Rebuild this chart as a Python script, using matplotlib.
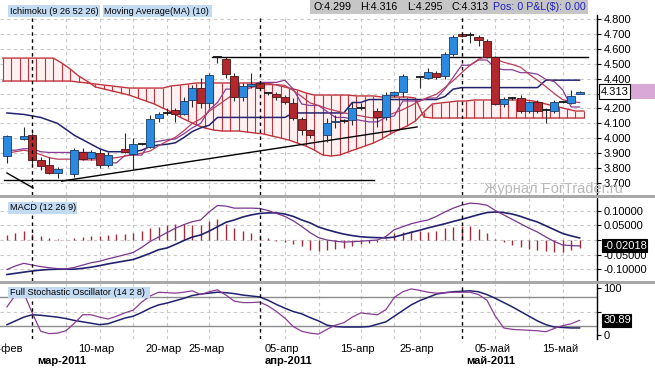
import matplotlib
matplotlib.use("Agg")
import matplotlib.pyplot as plt
from matplotlib.patches import Rectangle
import matplotlib.transforms as mtransforms
import numpy as np
import pandas as pd

plt.rcParams['font.family'] = ['Liberation Sans', 'DejaVu Sans']

W, H = 655, 368

# ---------------- x axis calendar (Sun-Fri bars, no bar on 22 Apr) ----------------
axis_dates = [d for d in pd.date_range('2011-02-25', '2011-05-17')
              if d.weekday() != 5 and d != pd.Timestamp('2011-04-22')]
slot = {d.strftime('%Y-%m-%d'): i for i, d in enumerate(axis_dates)}
xs = np.arange(len(axis_dates))

# ---------------- candles ----------------
candle_dates = ['2011-02-25', '2011-02-28', '2011-03-01', '2011-03-02', '2011-03-03', '2011-03-04',
                '2011-03-07', '2011-03-08', '2011-03-09', '2011-03-10', '2011-03-11', '2011-03-14',
                '2011-03-15', '2011-03-16', '2011-03-17', '2011-03-18', '2011-03-20', '2011-03-21',
                '2011-03-22', '2011-03-23', '2011-03-24', '2011-03-25', '2011-03-27', '2011-03-28',
                '2011-03-29', '2011-03-30', '2011-03-31', '2011-04-01', '2011-04-03', '2011-04-04',
                '2011-04-05', '2011-04-06', '2011-04-07', '2011-04-08', '2011-04-11', '2011-04-12',
                '2011-04-13', '2011-04-14', '2011-04-15', '2011-04-18', '2011-04-19', '2011-04-20',
                '2011-04-21', '2011-04-25', '2011-04-26', '2011-04-27', '2011-04-28', '2011-04-29',
                '2011-05-01', '2011-05-02', '2011-05-03', '2011-05-04', '2011-05-05', '2011-05-06',
                '2011-05-08', '2011-05-09', '2011-05-10', '2011-05-11', '2011-05-12', '2011-05-13',
                '2011-05-15', '2011-05-16', '2011-05-17']
opens = [3.881, 3.995, 4.022, 3.854, 3.821, 3.767, 3.760, 3.908, 3.868, 3.901, 3.821, 3.925,
         3.894, 3.962, 3.942, 4.136, 4.170, 4.190, 4.163, 4.257, 4.337, 4.237, 4.545, 4.532,
         4.418, 4.277, 4.351, 4.371, 4.305, 4.297, 4.277, 4.237, 4.129, 4.056, 4.022, 4.110,
         4.115, 4.123, 4.200, 4.183, 4.143, 4.290, 4.310, 4.410, 4.404, 4.438, 4.418, 4.565,
         4.700, 4.690, 4.679, 4.652, 4.545, 4.230, 4.270, 4.270, 4.183, 4.243, 4.190, 4.183,
         4.243, 4.237, 4.299]
highs = [4.020, 4.076, 4.035, 3.874, 3.874, 3.807, 3.935, 3.935, 3.921, 3.928, 3.908, 4.035,
         4.002, 3.970, 4.156, 4.176, 4.200, 4.203, 4.277, 4.357, 4.404, 4.440, 4.550, 4.545,
         4.438, 4.371, 4.438, 4.380, 4.310, 4.310, 4.290, 4.270, 4.140, 4.065, 4.136, 4.156,
         4.130, 4.243, 4.237, 4.200, 4.310, 4.320, 4.430, 4.420, 4.471, 4.450, 4.580, 4.690,
         4.710, 4.710, 4.690, 4.666, 4.550, 4.280, 4.280, 4.290, 4.250, 4.260, 4.200, 4.260,
         4.250, 4.324, 4.316]
lows = [3.834, 3.988, 3.821, 3.787, 3.760, 3.734, 3.740, 3.854, 3.854, 3.800, 3.807, 3.901,
        3.790, 3.955, 3.935, 4.109, 4.156, 4.109, 4.156, 4.210, 4.203, 4.203, 4.505, 4.404,
        4.250, 4.250, 4.337, 4.330, 4.290, 4.260, 4.230, 4.123, 4.022, 4.002, 3.975, 4.069,
        4.100, 4.089, 4.190, 4.076, 4.123, 4.280, 4.277, 4.340, 4.400, 4.400, 4.400, 4.550,
        4.680, 4.640, 4.620, 4.540, 4.223, 4.210, 4.260, 4.170, 4.170, 4.170, 4.100, 4.170,
        4.240, 4.230, 4.295]
closes = [4.015, 4.015, 3.854, 3.814, 3.767, 3.794, 3.921, 3.861, 3.908, 3.821, 3.888, 3.908,
          3.962, 3.962, 4.129, 4.163, 4.170, 4.163, 4.250, 4.337, 4.237, 4.424, 4.545, 4.431,
          4.277, 4.351, 4.364, 4.337, 4.305, 4.277, 4.243, 4.136, 4.056, 4.022, 4.102, 4.115,
          4.115, 4.203, 4.200, 4.143, 4.290, 4.310, 4.418, 4.410, 4.445, 4.411, 4.565, 4.679,
          4.686, 4.690, 4.659, 4.545, 4.230, 4.263, 4.270, 4.183, 4.243, 4.183, 4.190, 4.243,
          4.243, 4.284, 4.313]

# ---------------- Ichimoku cloud (values at bar boundaries, 70 points) ----------------
cloud_a = [4.384, 4.384, 4.384, 4.384, 4.384, 4.384, 4.384, 4.384, 4.384, 4.377, 4.371, 4.364,
           4.357, 4.351, 4.344, 4.337, 4.337, 4.337, 4.337, 4.337, 4.351, 4.357, 4.364, 4.371,
           4.371, 4.371, 4.371, 4.371, 4.371, 4.371, 4.371, 4.371, 4.364, 4.351, 4.337, 4.324,
           4.304, 4.290, 4.290, 4.290, 4.290, 4.290, 4.284, 4.284, 4.284, 4.277, 4.277, 4.277,
           4.277, 4.270, 4.143, 4.136, 4.136, 4.136, 4.136, 4.136, 4.136, 4.136, 4.136, 4.136,
           4.136, 4.136, 4.136, 4.136, 4.136, 4.136, 4.136, 4.136, 4.136, 4.136]
cloud_b = [4.538, 4.538, 4.538, 4.538, 4.538, 4.538, 4.538, 4.505, 4.465, 4.418, 4.384, 4.344,
           4.331, 4.317, 4.304, 4.290, 4.270, 4.250, 4.230, 4.203, 4.176, 4.143, 4.116, 4.089,
           4.069, 4.056, 4.049, 4.049, 4.049, 4.042, 4.035, 4.029, 4.015, 4.002, 3.988, 3.968,
           3.948, 3.921, 3.888, 3.881, 3.888, 3.908, 3.928, 3.948, 3.968, 3.995, 4.029, 4.056,
           4.082, 4.116, 4.176, 4.230, 4.237, 4.243, 4.250, 4.250, 4.257, 4.257, 4.257, 4.257,
           4.257, 4.257, 4.257, 4.250, 4.237, 4.223, 4.210, 4.196, 4.183, 4.183]

# ---------------- lines on price panel (one value per axis date) ----------------
tenkan = [3.92, 3.92, 3.93, 3.93, 3.91, 3.905, 3.905, 3.905, 3.905, 3.905, 3.905, 3.885, 3.835,
          3.835, 3.885, 3.887, 3.887, 3.97, 3.98, 3.99, 3.995, 4.03, 4.07, 4.10, 4.19, 4.24,
          4.33, 4.33, 4.33, 4.35, 4.375, 4.375, 4.375, 4.39, 4.33, 4.23, 4.22, 4.22, 4.18, 4.14,
          4.14, 4.13, 4.12, 4.11, 4.11, 4.14, 4.15, 4.25, 4.25, 4.25, 4.27, 4.27, 4.33, 4.41,
          4.49, 4.49, 4.525, 4.525, 4.47, 4.46, 4.46, 4.44, 4.44, 4.43, 4.395, 4.38, 4.325,
          4.21, 4.21]
kijun = [4.17, 4.165, 4.16, 4.15, 4.14, 4.12, 4.10, 4.06, 4.02, 3.99, 3.96, 3.93, 3.91, 3.91,
         3.91, 3.91, 3.92, 3.945, 3.955, 3.96, 3.97, 4.005, 4.045, 4.07, 4.087, 4.14, 4.14,
         4.14, 4.14, 4.14, 4.14, 4.14, 4.14, 4.14, 4.17, 4.17, 4.17, 4.17, 4.17, 4.17, 4.17,
         4.24, 4.24, 4.26, 4.26, 4.26, 4.26, 4.26, 4.26, 4.26, 4.26, 4.26, 4.28, 4.33, 4.34,
         4.34, 4.34, 4.34, 4.34, 4.34, 4.34, 4.34, 4.34, 4.34, 4.39, 4.39, 4.39, 4.39, 4.39]
ma10 = [3.90, 3.91, 3.92, 3.91, 3.89, 3.87, 3.86, 3.86, 3.86, 3.855, 3.855, 3.855, 3.864, 3.87,
        3.88, 3.89, 3.90, 3.915, 3.95, 3.98, 4.007, 4.05, 4.10, 4.13, 4.18, 4.22, 4.26, 4.30,
        4.32, 4.34, 4.355, 4.36, 4.36, 4.355, 4.32, 4.28, 4.237, 4.22, 4.20, 4.185, 4.171, 4.16,
        4.15, 4.14, 4.134, 4.15, 4.17, 4.192, 4.22, 4.25, 4.275, 4.295, 4.34, 4.387, 4.44,
        4.49, 4.53, 4.551, 4.532, 4.51, 4.495, 4.477, 4.43, 4.39, 4.346, 4.30, 4.259, 4.245,
        4.24]

# user-drawn trend lines: (bar position start, price start, bar position end, price end)
trend_lines = [(24.4, 4.545, 69.0, 4.545),
               (-0.3, 3.720, 43.6, 3.720),
               (6.5, 3.713, 48.7, 4.076),
               (0.0, 3.767, 3.1, 3.667)]

# ---------------- MACD (12 26 9) ----------------
macd = [-0.100, -0.088, -0.079, -0.085, -0.090, -0.094, -0.097, -0.098, -0.093, -0.085, -0.077,
        -0.072, -0.064, -0.057, -0.050, -0.042, -0.025, -0.005, 0.010, 0.025, 0.040, 0.052,
        0.062, 0.068, 0.095, 0.117, 0.115, 0.108, 0.108, 0.108, 0.107, 0.100, 0.090, 0.080,
        0.065, 0.046, 0.025, 0.008, 0.000, -0.004, -0.007, -0.006, -0.004, -0.002, 0.000,
        0.012, 0.035, 0.045, 0.055, 0.062, 0.068, 0.080, 0.095, 0.108, 0.118, 0.125, 0.123,
        0.118, 0.100, 0.085, 0.070, 0.055, 0.040, 0.027, 0.010, -0.005, -0.017, -0.019, -0.020]
signal = [-0.117, -0.113, -0.109, -0.105, -0.102, -0.100, -0.099, -0.099, -0.099, -0.096, -0.092,
          -0.087, -0.081, -0.076, -0.071, -0.066, -0.056, -0.045, -0.033, -0.027, -0.015, -0.002,
          0.010, 0.017, 0.030, 0.045, 0.060, 0.068, 0.078, 0.085, 0.090, 0.092, 0.092, 0.088,
          0.080, 0.068, 0.058, 0.044, 0.035, 0.027, 0.020, 0.015, 0.011, 0.009, 0.008, 0.007,
          0.010, 0.018, 0.026, 0.033, 0.041, 0.048, 0.055, 0.063, 0.070, 0.078, 0.086, 0.093,
          0.095, 0.093, 0.088, 0.080, 0.070, 0.061, 0.048, 0.035, 0.022, 0.014, 0.007]
macd_last = -0.02018

# ---------------- Full Stochastic (14 2 8) ----------------
stoch_k = [60, 85, 89, 47, 8, 3, 4, 9, 25, 43, 43, 38, 34, 40, 47, 53, 70, 83, 91, 90, 89, 91,
           94, 86, 92, 96, 85, 72, 69, 69, 70, 62, 50, 36, 18, 8, 4, 2, 12, 21, 26, 38, 47, 45,
           43, 54, 80, 92, 98, 95, 91, 89, 90, 91, 91, 91, 86, 74, 40, 15, 12, 11, 10, 9, 7, 14,
           20, 24, 31]
stoch_d = [22, 30, 38, 43, 42, 40, 38, 35, 31, 28, 25, 22, 24, 30, 36, 40, 48, 57, 64, 68, 73,
           78, 84, 87, 89, 91, 90, 88, 85, 83, 81, 74, 65, 57, 50, 45, 37, 30, 21, 18, 17, 17,
           17, 18, 23, 28, 40, 52, 64, 73, 80, 87, 90, 92, 93, 94, 92, 86, 78, 69, 60, 50, 40,
           30, 22, 17, 16, 15, 15]
stoch_last = 30.89

# ---------------- labels ----------------
tick_dates = ['2011-02-25', '2011-03-10', '2011-03-20', '2011-03-25', '2011-04-05',
              '2011-04-15', '2011-04-25', '2011-05-05', '2011-05-15']
tick_texts = ['25-фев', '10-мар', '20-мар', '25-мар', '05-апр', '15-апр', '25-апр',
              '05-май', '15-май']
month_dates = ['2011-03-01', '2011-04-01', '2011-05-01']
month_texts = ['мар-2011', 'апр-2011', 'май-2011']
grid_dates = ['2011-03-06', '2011-03-10', '2011-03-15', '2011-03-20', '2011-03-25',
              '2011-04-05', '2011-04-10', '2011-04-15', '2011-04-20', '2011-04-25',
              '2011-05-05', '2011-05-10', '2011-05-15']
ohlc_text = ['O:4.299', 'H:4.316', 'L:4.295', 'C:4.313']
last_price = 4.313

# =====================================================================
fig = plt.figure(figsize=(W / 100, H / 100), dpi=100)
fig.patch.set_facecolor('white')

XL = (-0.83, 70.07)
GRID = '#c8c8c8'


def fx(px):
    return px / W


def fy(py):
    return 1 - py / H


def add_ax(y0, y1, ylim):
    ax = fig.add_axes([0, fy(y1), fx(597), (y1 - y0) / H])
    ax.set_facecolor('white')
    for s in ['top', 'left', 'bottom']:
        ax.spines[s].set_visible(False)
    ax.spines['right'].set_color('black')
    ax.spines['right'].set_linewidth(1.0)
    ax.yaxis.tick_right()
    ax.tick_params(axis='y', length=3, width=0.8, pad=1.5, labelsize=8, colors='black')
    ax.set_xticks([])
    ax.set_xlim(*XL)
    ax.set_ylim(*ylim)
    return ax


ax_p = add_ax(15, 195, (3.6196, 4.827))
ax_m = add_ax(198, 281, (-0.139, 0.1424))
ax_s = add_ax(284, 339, (-8.5, 108.5))

# vertical grid + month separators on every panel
for ax in (ax_p, ax_m, ax_s):
    for d in grid_dates:
        ax.axvline(slot[d], color=GRID, lw=0.8, ls=(0, (3, 3)), zorder=0)
    for d in month_dates:
        ax.axvline(slot[d], color='black', lw=1.0, ls=(0, (2.5, 2.5)), zorder=6)

# ---------------- price panel ----------------
pticks = np.round(np.arange(3.7, 4.801, 0.1), 3)
ax_p.set_yticks(pticks)
# the 4.300 label sits under the last-price box, as in the source chart
ax_p.set_yticklabels(['' if abs(v - 4.3) < 1e-6 else '%.3f' % v for v in pticks])
for v in pticks:
    ax_p.axhline(v, color=GRID, lw=0.8, ls=(0, (3, 3)), zorder=0)

cx = np.arange(len(cloud_a)) - 0.5
ax_p.fill_between(cx, cloud_a, cloud_b, color='#fff1f1', zorder=1, lw=0)
ax_p.vlines(cx, cloud_a, cloud_b, color='#c0343c', lw=0.8, zorder=2)
ax_p.plot(cx, cloud_a, color='#c0343c', lw=1.0, zorder=2)
ax_p.plot(cx, cloud_b, color='#c0343c', lw=1.0, zorder=2)

for x0, y0, x1, y1 in trend_lines:
    ax_p.plot([x0, x1], [y0, y1], color='black', lw=1.0, zorder=3)

ax_p.plot(xs, kijun, color='#22226e', lw=1.1, zorder=3)
ax_p.plot(xs, tenkan, color='#8a3c96', lw=0.9, zorder=3)
ax_p.plot(xs, ma10, color='#b8405c', lw=0.9, zorder=3)

BW = 0.96
for d, o, h, l, c in zip(candle_dates, opens, highs, lows, closes):
    x = slot[d]
    ax_p.vlines(x, l, h, color='#2a2a2a', lw=0.8, zorder=4)
    if abs(c - o) < 0.004:
        ax_p.hlines(o, x - BW / 2, x + BW / 2, color='#151515', lw=1.3, zorder=5)
    else:
        up = c > o
        ax_p.add_patch(Rectangle((x - BW / 2, min(o, c)), BW, abs(c - o),
                                 facecolor='#2a8ae0' if up else '#b3282c',
                                 edgecolor='#1c3c66' if up else '#4a1414',
                                 lw=0.6, zorder=5))

# ---------------- MACD panel ----------------
mticks = [-0.1, -0.05, 0.0, 0.05, 0.1]
ax_m.set_yticks(mticks)
ax_m.set_yticklabels(['-0.10000', '-0.05000', '', '0.05000', '0.10000'])
for v in mticks:
    ax_m.axhline(v, color=GRID, lw=0.8, ls=(0, (3, 3)), zorder=0)
hist = np.array(macd) - np.array(signal)
ax_m.vlines(xs, 0, hist, color='#a42a3a', lw=1.0, zorder=2)
ax_m.plot(xs, signal, color='#22226e', lw=1.2, zorder=3)
ax_m.plot(xs, macd, color='#7a3590', lw=0.9, zorder=3)

# ---------------- Stochastic panel ----------------
ax_s.set_yticks([0, 50, 100])
ax_s.set_yticklabels(['0', '', '100'])
ax_s.axhline(50, color=GRID, lw=0.8, ls=(0, (3, 3)), zorder=0)
ax_s.axhline(80, color='#8c8c8c', lw=1.0, zorder=1)
ax_s.axhline(20, color='#8c8c8c', lw=1.0, zorder=1)
ax_s.plot(xs, stoch_d, color='#22226e', lw=1.1, zorder=3)
ax_s.plot(xs, stoch_k, color='#8a3c96', lw=0.9, zorder=3)

# ---------------- x labels ----------------
tr = mtransforms.blended_transform_factory(ax_s.transData, fig.transFigure)
for d, t in zip(tick_dates, tick_texts):
    ax_s.text(slot[d] - 0.35, fy(349), t, transform=tr, ha='center', va='center',
              fontsize=8, clip_on=False)
for d, t in zip(month_dates, month_texts):
    ax_s.text(slot[d] + 0.6, fy(361), t, transform=tr, ha='left', va='center',
              fontsize=8, fontweight='bold', clip_on=False)

# ---------------- separators ----------------
for y0 in (195, 281):
    fig.patches.append(Rectangle((0, fy(y0 + 3)), 1, 3 / H, transform=fig.transFigure,
                                 facecolor='#a8a8a8', edgecolor='none', zorder=10))

# ---------------- header boxes ----------------
def label_box(x0, x1, y0, y1, text, fc, color='black', size=6.6):
    fig.patches.append(Rectangle((fx(x0), fy(y1)), (x1 - x0) / W, (y1 - y0) / H,
                                 transform=fig.transFigure, facecolor=fc,
                                 edgecolor='none', zorder=20))
    fig.text(fx(x0 + 1.5), fy((y0 + y1) / 2), text, ha='left',
             va='center', fontsize=size, color=color, zorder=21)


label_box(8, 100, 5, 17, 'Ichimoku (9 26 52 26)', '#c3dbf2')
label_box(103, 212, 5, 17, 'Moving Average(MA) (10)', '#c3dbf2')
label_box(8, 77, 202, 214, 'MACD (12 26 9)', '#c3dbf2')
label_box(8, 150, 287, 298, 'Full Stochastic Oscillator (14 2 8)', '#c3dbf2')

fig.patches.append(Rectangle((fx(310), fy(14)), (588 - 310) / W, 14 / H,
                             transform=fig.transFigure, facecolor='#c6c6c6',
                             edgecolor='none', zorder=20))
for t, x in zip(ohlc_text, [313, 360, 407, 452]):
    fig.text(fx(x), fy(7), t, ha='left', va='center', fontsize=7.7, color='black', zorder=21)
fig.text(fx(493), fy(7), 'Pos: 0 P&L(\\$): 0.00', ha='left', va='center', fontsize=7.7,
         color='#2020c0', zorder=21)

# ---------------- last value markers ----------------
def marker(ax, val, text, fc, tc, ec, y_px_half, x0=599, x1=646):
    trb = mtransforms.blended_transform_factory(fig.transFigure, ax.transData)
    lo, hi = ax.get_ylim()
    hpx = ax.get_position().height * H
    dh = (hi - lo) / hpx * y_px_half
    ax.add_patch(Rectangle((fx(x0), val - dh), (x1 - x0) / W, 2 * dh, transform=trb,
                           facecolor=fc, edgecolor=ec, lw=0.8, zorder=30, clip_on=False))
    ax.text(fx(x0 + 2), val, text, transform=trb, ha='left', va='center', fontsize=8,
            color=tc, zorder=31, clip_on=False)
    return trb, dh


trb, dh = marker(ax_p, last_price, '%.3f' % last_price, 'white', 'black', 'black', 7.5,
                 599, 630)
ax_p.add_patch(Rectangle((fx(630), last_price - dh), 25 / W, 2 * dh, transform=trb,
                         facecolor='#d9a8d6', edgecolor='none', zorder=29, clip_on=False))
marker(ax_m, macd_last, '%.5f' % macd_last, 'black', 'white', 'black', 6.5, 602, 647)
marker(ax_s, stoch_last, '%.2f' % stoch_last, 'black', 'white', 'black', 6.5, 602, 631)

# watermark
fig.text(fx(553), fy(189), 'Журнал ForTrader.ru', ha='center', va='center', fontsize=10.5,
         color='#b8b8b8', zorder=25)

fig.savefig('out.png', dpi=100, facecolor='white')
